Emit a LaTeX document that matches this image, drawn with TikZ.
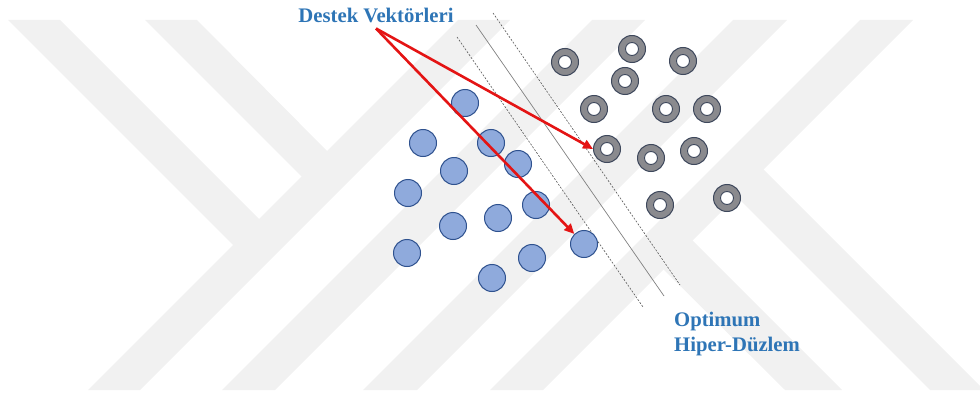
\documentclass[tikz,border=0pt]{standalone}
\usepackage{fontspec}
\setmainfont{Liberation Serif}
\usepackage{xcolor}
\usetikzlibrary{arrows.meta}

\definecolor{markgray}{RGB}{241,241,241}
\definecolor{ptblue}{RGB}{143,170,220}
\definecolor{ptedge}{RGB}{47,82,143}
\definecolor{ringgray}{RGB}{138,138,142}
\definecolor{ringedge}{RGB}{62,72,92}
\definecolor{lblblue}{RGB}{46,117,182}
\definecolor{arrred}{RGB}{228,20,20}

\begin{document}
\begin{tikzpicture}[x=1pt, y=-1pt,
  bluept/.style={circle, fill=ptblue, draw=ptedge, line width=1pt, minimum size=27pt, inner sep=0pt},
  ringpt/.style={circle, fill=ringgray, draw=ringedge, line width=1pt, minimum size=27pt, inner sep=0pt,
    path picture={\draw[ringedge, fill=white, line width=0.9pt] (path picture bounding box.center) circle (6.5pt);}},
  lbl/.style={font=\fontsize{20.7}{25}\selectfont\bfseries, text=lblblue, inner sep=1pt},
  svarrow/.style={draw=arrred, line width=2.6pt, -{Triangle[length=10pt,width=9pt]}},
  margin/.style={gray!70!black, line width=0.6pt, dash pattern=on 2pt off 1.5pt}]

 \useasboundingbox (0,0) rectangle (980,396);

 % background stripes
 \begin{scope}
   \clip (0,20) rectangle (980,390);
   \foreach \a/\b in {478/530, 612/665, 753/807, 880/933}
     \fill[markgray] (\a-20,20) -- (\b-20,20) -- (\b-390,390) -- (\a-390,390) -- cycle;
   \fill[markgray] (8,20) -- (60,20) -- (265,225) -- (239,251) -- cycle;
   \fill[markgray] (145,20) -- (197,20) -- (333,157) -- (307,182) -- cycle;
   \fill[markgray] (747,153) -- (720,180) -- (930,390) -- (984,390) -- cycle;
   \fill[markgray] (676,224) -- (647,253) -- (785,390) -- (842,390) -- cycle;
 \end{scope}

 % hyperplane and margins
 \draw[gray, line width=0.7pt] (476,25) -- (664,296);
 \draw[margin] (457,37) -- (643,307);
 \draw[margin] (493,13) -- (680,285);

 % class 1
 \foreach \i/\x/\y in {1/465/103, 2/423/143, 3/491/143, 4/518/164, 5/454/171, 6/408/193, 7/536/205,
                       8/498/218, 9/453/226, 10/407/253, 11/584/244, 12/532/258, 13/492/278}
   \node[bluept] (b\i) at (\x,\y) {};

 % class 2
 \foreach \i/\x/\y in {1/565/62, 2/632/49, 3/683/61, 4/625/81, 5/594/109, 6/666/109,
                       7/707/109, 8/607/149, 9/651/158, 10/694/151, 11/660/205, 12/727/198}
   \node[ringpt] (r\i) at (\x,\y) {};

 % labels
 \node[lbl, anchor=base] (dv) at (376,23) {Destek Vektörleri};
 \node[lbl, anchor=north west, align=left] (hp) at (673,311) {Optimum\\Hiper-Düzlem};

 % arrows
 \draw[svarrow] ([yshift=-4pt]dv.south) -- (r8.west);
 \draw[svarrow] ([yshift=-4pt]dv.south) -- (b11);

\end{tikzpicture}
\end{document}
